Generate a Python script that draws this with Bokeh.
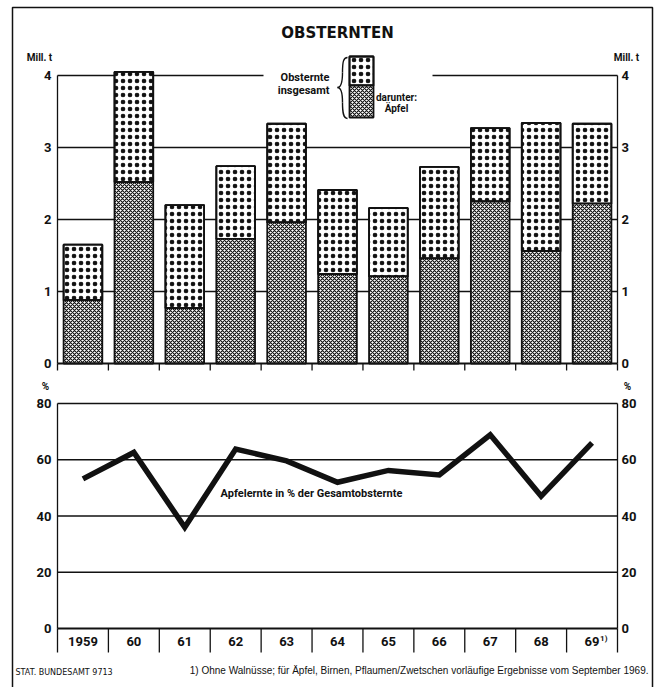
from bokeh.plotting import figure
from bokeh.models import Range1d, ColumnDataSource, Label
from bokeh.core.properties import value
from bokeh.embed import file_html
from bokeh.resources import INLINE

# --- data -------------------------------------------------------------
years = ["1959", "60", "61", "62", "63", "64", "65", "66", "67", "68", "69"]
total_harvest = [1.65, 4.05, 2.20, 2.74, 3.33, 2.41, 2.16, 2.73, 3.27, 3.34, 3.33]   # Mill. t
apple_harvest = [0.88, 2.52, 0.77, 1.73, 1.96, 1.24, 1.21, 1.46, 2.25, 1.56, 2.22]   # Mill. t
apple_share = [53.2, 62.6, 36.0, 63.8, 59.6, 52.0, 56.2, 54.6, 68.9, 47.1, 66.0]    # %
mt_ticks = [0, 1, 2, 3, 4]
pct_ticks = [0, 20, 40, 60, 80]

W, H = 662, 687
FONT = "Roboto"
NOTE_FONT = "Liberation Sans"

# page layout (pixels) -> data units of the single drawing frame
X0, CW = 57.0, 560.0 / 11          # left edge of the category band, width of one year
MT0, MT_PX = 363.0, 72.0           # baseline and px per Mill. t of the upper panel
PC0, PC_PX = 628.0, 225.0 / 80     # baseline and px per percent of the lower panel


def xd(px):
    return (px - X0) / CW


def yt(py):
    return (MT0 - py) / MT_PX


def yp(py):
    return (PC0 - py) / PC_PX


n = len(years)
xc = [i + 0.5 for i in range(n)]
edges = list(range(n + 1))

p = figure(width=W, height=H, min_border=0, toolbar_location=None,
           output_backend="svg", x_axis_location=None, y_axis_location=None,
           x_range=Range1d(xd(0), xd(W)), y_range=Range1d(yt(H), yt(0)))
p.extra_y_ranges = {"pct": Range1d(yp(H), yp(0))}
p.grid.visible = False
p.outline_line_color = None
p.background_fill_color = "white"
p.border_fill_color = "white"

INK = "#111111"

# the dot screen is a ring hatch with a dot hatch on top, which reads as solid dots
ring_fill = dict(fill_color="white", hatch_pattern="ring", hatch_color=INK,
                 hatch_scale=7, hatch_weight=1.1)
dot_fill = dict(fill_color=None, hatch_pattern="dot", hatch_color=INK,
                hatch_scale=7, hatch_weight=1.0)
cross_fill = dict(fill_color="white", hatch_pattern="diagonal_cross", hatch_color=INK,
                  hatch_scale=4, hatch_weight=1.15)

# outer frame
p.line(x=[xd(12), xd(12), xd(652), xd(652)], y=[yt(H + 5), yt(7), yt(7), yt(H + 5)],
       line_color=INK, line_width=1.5)

# --- upper panel: harvest in Mill. t ------------------------------------
legend_gap = (xd(263), xd(432))
for v in mt_ticks[1:]:
    if v == mt_ticks[-1]:
        p.segment(x0=[0, legend_gap[1]], y0=[v, v], x1=[legend_gap[0], n], y1=[v, v],
                  line_color=INK, line_width=1.3)
    else:
        p.segment(x0=[0], y0=[v], x1=[n], y1=[v], line_color=INK, line_width=1.3)
p.segment(x0=[0, n], y0=[0, 0], x1=[0, n], y1=[mt_ticks[-1]] * 2, line_color=INK, line_width=1.3)

src = ColumnDataSource(dict(x=xc, total=total_harvest, apples=apple_harvest,
                            zero=[0] * n, share=apple_share, label=years))
bw = 0.76
p.vbar(x="x", bottom="apples", top="total", width=bw, source=src,
       line_color=INK, line_width=1.8, **ring_fill)
p.vbar(x="x", bottom="apples", top="total", width=bw, source=src,
       line_color=INK, line_width=1.8, **dot_fill)
p.vbar(x="x", bottom="zero", top="apples", width=bw, source=src,
       line_color=INK, line_width=1.8, **cross_fill)

p.segment(x0=[0], y0=[0], x1=[n], y1=[0], line_color=INK, line_width=2.2)
p.segment(x0=edges, y0=[0] * len(edges), x1=edges, y1=[yt(370)] * len(edges),
          line_color=INK, line_width=1.3)

tick_style = dict(text_font=value(FONT), text_font_size="13px", text_font_style="bold",
                  text_color=INK, text_baseline="middle")
p.text(x=[xd(51)] * len(mt_ticks), y=mt_ticks, text=[str(t) for t in mt_ticks],
       text_align="right", **tick_style)
p.text(x=[xd(621)] * len(mt_ticks), y=mt_ticks, text=[str(t) for t in mt_ticks],
       text_align="left", **tick_style)

small = dict(text_font=FONT, text_font_size="10px", text_font_style="bold",
             text_color=INK, text_baseline="middle", text_align="center")
p.add_layout(Label(x=xd(39), y=yt(57), text="Mill. t", **small))
p.add_layout(Label(x=xd(626), y=yt(57), text="Mill. t", **small))

p.add_layout(Label(x=n / 2, y=yt(32), text="OBSTERNTEN", text_font="DejaVu Sans",
                   text_font_size="15px", text_font_style="bold", text_color=INK,
                   text_align="center", text_baseline="middle"))

# legend key
lx0, lx1 = xd(349), xd(373)
for fill in (ring_fill, dot_fill):
    p.quad(left=[lx0], right=[lx1], bottom=[yt(85)], top=[yt(56)],
           line_color=INK, line_width=1.8, **fill)
p.quad(left=[lx0], right=[lx1], bottom=[yt(117)], top=[yt(85)],
       line_color=INK, line_width=1.8, **cross_fill)

# curly brace in front of the key
bx, tip = 347, 337
p.bezier(x0=[xd(bx), xd(bx - 5), xd(tip), xd(bx - 5)],
         y0=[yt(57), yt(72), yt(87), yt(102)],
         x1=[xd(bx - 5), xd(tip), xd(bx - 5), xd(bx)],
         y1=[yt(72), yt(87), yt(102), yt(118)],
         cx0=[xd(bx - 4), xd(bx - 5), xd(tip + 3), xd(bx - 5)],
         cy0=[yt(57), yt(83), yt(87), yt(113)],
         cx1=[xd(bx - 5), xd(tip + 3), xd(bx - 5), xd(bx - 4)],
         cy1=[yt(61), yt(87), yt(91), yt(118)],
         line_color=INK, line_width=1.4)

leg = dict(text_font=FONT, text_font_size="11px", text_font_style="bold",
           text_color=INK, text_baseline="middle")
p.add_layout(Label(x=xd(329), y=yt(77), text="Obsternte", text_align="right", **leg))
p.add_layout(Label(x=xd(329), y=yt(90), text="insgesamt", text_align="right", **leg))
p.add_layout(Label(x=xd(396), y=yt(97), text="darunter:", text_align="center",
                   **dict(leg, text_font_size="10px")))
p.add_layout(Label(x=xd(396), y=yt(108), text="Äpfel", text_align="center",
                   **dict(leg, text_font_size="10px")))

# --- lower panel: apple share in % ---------------------------------------
for v in pct_ticks[1:]:
    p.segment(x0=[0], y0=[v], x1=[n], y1=[v], line_color=INK, line_width=1.3,
              y_range_name="pct")
p.segment(x0=[0, n], y0=[0, 0], x1=[0, n], y1=[pct_ticks[-1]] * 2, line_color=INK,
          line_width=1.3, y_range_name="pct")
p.segment(x0=[0], y0=[0], x1=[n], y1=[0], line_color=INK, line_width=2.2,
          y_range_name="pct")
p.segment(x0=edges, y0=[0] * len(edges), x1=edges, y1=[yp(652)] * len(edges),
          line_color=INK, line_width=1.3, y_range_name="pct")

p.line(x="x", y="share", source=src, line_color=INK, line_width=5.5,
       line_join="miter", y_range_name="pct")

p.text(x=[xd(51)] * len(pct_ticks), y=pct_ticks, text=[str(t) for t in pct_ticks],
       text_align="right", y_range_name="pct", **tick_style)
p.text(x=[xd(621)] * len(pct_ticks), y=pct_ticks, text=[str(t) for t in pct_ticks],
       text_align="left", y_range_name="pct", **tick_style)
p.add_layout(Label(x=xd(45), y=yp(386), text="%", y_range_name="pct", **small))
p.add_layout(Label(x=xd(627), y=yp(386), text="%", y_range_name="pct", **small))

p.text(x="x", y=yp(641), text="label", source=src, y_range_name="pct",
       text_align="center", **tick_style)
# footnote marker on the last year
p.add_layout(Label(x=n - 0.5, y=yp(641), x_offset=8, y_offset=3, text="1)",
                   y_range_name="pct", **dict(small, text_align="left", text_font_size="8px")))

p.add_layout(Label(x=xd(311), y=yp(493), text="Apfelernte in % der Gesamtobsternte",
                   y_range_name="pct", text_font=FONT, text_font_size="11px",
                   text_font_style="bold", text_color=INK, text_align="center",
                   text_baseline="middle"))

# footer
p.add_layout(Label(x=xd(15), y=yp(672), text="STAT. BUNDESAMT 9713", y_range_name="pct",
                   text_font="DejaVu Sans", text_font_size="8px", text_color=INK,
                   text_align="left", text_baseline="middle"))
p.add_layout(Label(x=xd(648), y=yp(670),
                   text="1) Ohne Walnüsse; für Äpfel, Birnen, Pflaumen/Zwetschen "
                        "vorläufige Ergebnisse vom September 1969.",
                   y_range_name="pct", text_font=NOTE_FONT, text_font_size="10px",
                   text_color=INK, text_align="right", text_baseline="middle"))

open("out.html", "w").write(file_html(p, INLINE))
